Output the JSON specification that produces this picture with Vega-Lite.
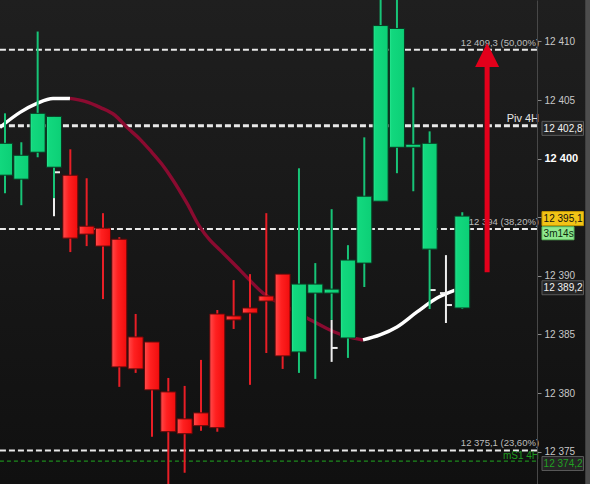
{
  "$schema": "https://vega.github.io/schema/vega-lite/v6.json",
  "width": 590,
  "height": 484,
  "autosize": {"type": "none"},
  "padding": 0,
  "background": "#161616",
  "config": {
    "view": {"stroke": null, "fill": {"gradient": "linear", "x1": 0, "y1": 0, "x2": 0, "y2": 1, "stops": [{"offset": 0, "color": "#1f1f1f"}, {"offset": 1, "color": "#101010"}]}},
    "scale": {"continuousPadding": 0},
    "font": "Liberation Sans"
  },
  "datasets": {
    "candles": [
      {"k": 0, "o": 12398.59, "c": 12401.31, "h": 12403.87, "l": 12397.05},
      {"k": 1, "o": 12398.25, "c": 12400.29, "h": 12401.40, "l": 12396.03},
      {"k": 2, "o": 12400.55, "c": 12403.87, "h": 12410.85, "l": 12400.12},
      {"k": 3, "o": 12399.27, "c": 12403.61, "h": 12403.61, "l": 12396.63},
      {"k": 4, "o": 12398.59, "c": 12393.22, "h": 12400.80, "l": 12392.03},
      {"k": 5, "o": 12394.24, "c": 12393.56, "h": 12398.33, "l": 12392.54},
      {"k": 6, "o": 12394.07, "c": 12392.54, "h": 12395.35, "l": 12388.02},
      {"k": 7, "o": 12393.13, "c": 12382.23, "h": 12393.30, "l": 12380.53},
      {"k": 8, "o": 12384.79, "c": 12382.06, "h": 12386.75, "l": 12381.72},
      {"k": 9, "o": 12384.36, "c": 12380.27, "h": 12384.36, "l": 12376.27},
      {"k": 10, "o": 12380.10, "c": 12376.70, "h": 12381.29, "l": 12372.00},
      {"k": 11, "o": 12377.80, "c": 12376.53, "h": 12380.61, "l": 12373.20},
      {"k": 12, "o": 12378.31, "c": 12377.21, "h": 12382.83, "l": 12376.78},
      {"k": 13, "o": 12386.75, "c": 12377.04, "h": 12387.09, "l": 12376.70},
      {"k": 14, "o": 12386.58, "c": 12386.24, "h": 12389.64, "l": 12385.47},
      {"k": 15, "o": 12387.26, "c": 12386.83, "h": 12390.15, "l": 12380.70},
      {"k": 16, "o": 12388.28, "c": 12387.85, "h": 12395.35, "l": 12383.42},
      {"k": 17, "o": 12390.15, "c": 12383.17, "h": 12390.15, "l": 12382.06},
      {"k": 18, "o": 12383.51, "c": 12389.30, "h": 12399.18, "l": 12381.72},
      {"k": 19, "o": 12388.53, "c": 12389.30, "h": 12391.09, "l": 12381.21},
      {"k": 20, "o": 12388.53, "c": 12388.87, "h": 12395.69, "l": 12386.24},
      {"k": 21, "o": 12384.70, "c": 12391.35, "h": 12392.62, "l": 12383.00},
      {"k": 22, "o": 12391.09, "c": 12396.80, "h": 12401.82, "l": 12389.05},
      {"k": 23, "o": 12396.37, "c": 12411.36, "h": 12414.00, "l": 12396.37},
      {"k": 24, "o": 12400.97, "c": 12411.11, "h": 12414.00, "l": 12398.76},
      {"k": 25, "o": 12400.97, "c": 12401.23, "h": 12406.08, "l": 12397.22},
      {"k": 26, "o": 12392.28, "c": 12401.31, "h": 12402.33, "l": 12387.17},
      {"k": 28, "o": 12387.26, "c": 12395.10, "h": 12395.43, "l": 12387.17}
    ],
    "whitebars": [
      {"k": 3, "h": 12398.84, "l": 12395.09, "o": null, "c": 12398.84},
      {"k": 20, "h": 12386.24, "l": 12382.66, "o": null, "c": 12383.85},
      {"k": 26, "h": null, "l": null, "o": null, "c": 12388.79},
      {"k": 27, "h": 12391.77, "l": 12385.98, "o": 12388.53, "c": 12387.51}
    ],
    "ma": [
      {"k": -0.31, "v": 12402.67, "seg": "a"},
      {"k": 0.92, "v": 12403.95, "seg": "a"},
      {"k": 1.96, "v": 12404.72, "seg": "a"},
      {"k": 2.94, "v": 12405.14, "seg": "a"},
      {"k": 3.98, "v": 12405.14, "seg": "a"},
      {"k": 3.98, "v": 12405.14, "seg": "b"},
      {"k": 4.90, "v": 12404.89, "seg": "b"},
      {"k": 5.82, "v": 12404.38, "seg": "b"},
      {"k": 6.74, "v": 12403.70, "seg": "b"},
      {"k": 7.47, "v": 12402.67, "seg": "b"},
      {"k": 8.27, "v": 12401.65, "seg": "b"},
      {"k": 8.88, "v": 12400.72, "seg": "b"},
      {"k": 9.61, "v": 12399.52, "seg": "b"},
      {"k": 10.29, "v": 12398.16, "seg": "b"},
      {"k": 11.14, "v": 12396.20, "seg": "b"},
      {"k": 11.94, "v": 12394.16, "seg": "b"},
      {"k": 12.55, "v": 12393.05, "seg": "b"},
      {"k": 13.17, "v": 12392.20, "seg": "b"},
      {"k": 14.39, "v": 12390.49, "seg": "b"},
      {"k": 15.80, "v": 12388.53, "seg": "b"},
      {"k": 17.27, "v": 12387.34, "seg": "b"},
      {"k": 18.49, "v": 12386.41, "seg": "b"},
      {"k": 19.90, "v": 12385.38, "seg": "b"},
      {"k": 20.82, "v": 12384.87, "seg": "b"},
      {"k": 21.92, "v": 12384.53, "seg": "b"},
      {"k": 21.92, "v": 12384.53, "seg": "c"},
      {"k": 22.96, "v": 12384.96, "seg": "c"},
      {"k": 24.00, "v": 12385.64, "seg": "c"},
      {"k": 25.23, "v": 12386.92, "seg": "c"},
      {"k": 26.45, "v": 12388.11, "seg": "c"},
      {"k": 27.56, "v": 12388.79, "seg": "c"}
    ],
    "levels": [
      {"v": 12409.3, "label": "12 409,3 (50,00%)", "t": "fib"},
      {"v": 12402.8, "label": "Piv 4H", "t": "piv"},
      {"v": 12394.0, "label": "12 394 (38,20%)", "t": "fib"},
      {"v": 12375.1, "label": "12 375,1 (23,60%)", "t": "fib"},
      {"v": 12374.2, "label": "mS1 4H", "t": "sup"}
    ],
    "boxes": [
      {"v": 12402.8, "label": "12 402,8", "t": "dark"},
      {"v": 12395.1, "label": "12 395,1", "t": "price"},
      {"v": 12393.85, "label": "3m14s", "t": "timer"},
      {"v": 12389.2, "label": "12 389,2", "t": "dark"},
      {"v": 12374.2, "label": "12 374,2", "t": "sup"}
    ]
  },
  "layer": [
    {
      "data": {"values": [{}]},
      "mark": {"type": "rect", "fill": "#4d4d4d"},
      "encoding": {
        "x": {"datum": 35.53, "type": "quantitative", "scale": {"type": "linear", "domain": [-0.306, 35.82], "nice": false, "zero": false, "padding": 0}, "axis": null},
        "x2": {"datum": 37.0},
        "y": {"datum": 12372.24, "type": "quantitative", "scale": {"type": "linear", "domain": [12372.24, 12413.54], "nice": false, "zero": false, "padding": 0},
          "axis": {"orient": "right", "offset": -53, "zindex": 1, "values": [12375, 12380, 12385, 12390, 12395, 12400, 12405, 12410],
            "labelExpr": "datum.value == 12395 ? '' : replace(format(datum.value, ','), ',', ' ')",
            "labelColor": {"condition": {"test": "datum.value == 12400", "value": "#ffffff"}, "value": "#c8c8c8"},
            "labelFontWeight": {"condition": {"test": "datum.value == 12400", "value": "bold"}, "value": "normal"},
            "labelFontSize": {"condition": {"test": "datum.value == 12400", "value": 11}, "value": 10},
            "labelFont": "Liberation Sans", "labelPadding": 3,
            "domainColor": "#484848", "domainWidth": 1, "tickColor": "#8a8a8a", "tickSize": 4,
            "title": null, "grid": false, "labelOverlap": false, "labelBound": false, "labelFlush": false}},
        "y2": {"datum": 12413.54}
      }
    },
    {
      "data": {"name": "levels"},
      "transform": [{"filter": "datum.t != 'sup'"}],
      "mark": {"type": "rule", "color": "#e8e8e8", "strokeDash": [6, 3]},
      "encoding": {
        "x": {"datum": -0.31, "type": "quantitative", "scale": {"type": "linear", "domain": [-0.306, 35.82], "nice": false, "zero": false, "padding": 0}, "axis": null},
        "x2": {"datum": 32.58},
        "y": {"field": "v", "type": "quantitative", "scale": {"type": "linear", "domain": [12372.24, 12413.54], "nice": false, "zero": false, "padding": 0}},
        "strokeWidth": {"condition": {"test": "datum.t == 'piv'", "value": 3}, "value": 2}
      }
    },
    {
      "data": {"name": "levels"},
      "transform": [{"filter": "datum.t == 'sup'"}],
      "mark": {"type": "rule", "color": "#1d8a1d", "strokeDash": [4, 3], "strokeWidth": 1.3},
      "encoding": {
        "x": {"datum": -0.31, "type": "quantitative", "scale": {"type": "linear", "domain": [-0.306, 35.82], "nice": false, "zero": false, "padding": 0}, "axis": null},
        "x2": {"datum": 32.58},
        "y": {"field": "v", "type": "quantitative", "scale": {"type": "linear", "domain": [12372.24, 12413.54], "nice": false, "zero": false, "padding": 0}}
      }
    },
    {
      "data": {"name": "ma"},
      "mark": {"type": "line", "strokeWidth": 3.4, "interpolate": "monotone", "strokeCap": "butt"},
      "encoding": {
        "x": {"field": "k", "type": "quantitative", "scale": {"type": "linear", "domain": [-0.306, 35.82], "nice": false, "zero": false, "padding": 0}, "axis": null},
        "y": {"field": "v", "type": "quantitative", "scale": {"type": "linear", "domain": [12372.24, 12413.54], "nice": false, "zero": false, "padding": 0}},
        "detail": {"field": "seg"},
        "color": {"field": "seg", "type": "nominal", "scale": {"domain": ["a", "b", "c"], "range": ["#ffffff", "#8a0b30", "#ffffff"]}, "legend": null}
      }
    },
    {
      "data": {"name": "whitebars"},
      "mark": {"type": "rule", "color": "#eeeeee", "strokeWidth": 2},
      "encoding": {
        "x": {"field": "k", "type": "quantitative", "scale": {"type": "linear", "domain": [-0.306, 35.82], "nice": false, "zero": false, "padding": 0}, "axis": null},
        "y": {"field": "l", "type": "quantitative", "scale": {"type": "linear", "domain": [12372.24, 12413.54], "nice": false, "zero": false, "padding": 0}},
        "y2": {"field": "h"}
      }
    },
    {
      "data": {"name": "whitebars"},
      "transform": [{"filter": "isValid(datum.c)"}],
      "mark": {"type": "rule", "color": "#eeeeee", "strokeWidth": 2, "x2Offset": 6},
      "encoding": {
        "x": {"field": "k", "type": "quantitative", "scale": {"type": "linear", "domain": [-0.306, 35.82], "nice": false, "zero": false, "padding": 0}, "axis": null},
        "x2": {"field": "k"},
        "y": {"field": "c", "type": "quantitative", "scale": {"type": "linear", "domain": [12372.24, 12413.54], "nice": false, "zero": false, "padding": 0}}
      }
    },
    {
      "data": {"name": "whitebars"},
      "transform": [{"filter": "isValid(datum.o)"}],
      "mark": {"type": "rule", "color": "#eeeeee", "strokeWidth": 2, "x2Offset": -6},
      "encoding": {
        "x": {"field": "k", "type": "quantitative", "scale": {"type": "linear", "domain": [-0.306, 35.82], "nice": false, "zero": false, "padding": 0}, "axis": null},
        "x2": {"field": "k"},
        "y": {"field": "o", "type": "quantitative", "scale": {"type": "linear", "domain": [12372.24, 12413.54], "nice": false, "zero": false, "padding": 0}}
      }
    },
    {
      "data": {"name": "candles"},
      "transform": [{"filter": "datum.c >= datum.o"}],
      "mark": {"type": "rule", "color": "#17c477", "strokeWidth": 2},
      "encoding": {
        "x": {"field": "k", "type": "quantitative", "scale": {"type": "linear", "domain": [-0.306, 35.82], "nice": false, "zero": false, "padding": 0}, "axis": null},
        "y": {"field": "l", "type": "quantitative", "scale": {"type": "linear", "domain": [12372.24, 12413.54], "nice": false, "zero": false, "padding": 0}},
        "y2": {"field": "h"}
      }
    },
    {
      "data": {"name": "candles"},
      "transform": [{"filter": "datum.c < datum.o"}],
      "mark": {"type": "rule", "color": "#e81e26", "strokeWidth": 2},
      "encoding": {
        "x": {"field": "k", "type": "quantitative", "scale": {"type": "linear", "domain": [-0.306, 35.82], "nice": false, "zero": false, "padding": 0}, "axis": null},
        "y": {"field": "l", "type": "quantitative", "scale": {"type": "linear", "domain": [12372.24, 12413.54], "nice": false, "zero": false, "padding": 0}},
        "y2": {"field": "h"}
      }
    },
    {
      "data": {"name": "candles"},
      "transform": [{"filter": "datum.c >= datum.o"}],
      "mark": {"type": "bar", "size": 15, "stroke": "#0a3a22", "strokeWidth": 1,
        "color": {"gradient": "linear", "x1": 0, "y1": 0, "x2": 1, "y2": 0, "stops": [{"offset": 0, "color": "#2ee894"}, {"offset": 0.15, "color": "#12d87e"}, {"offset": 1, "color": "#0ccf76"}]}},
      "encoding": {
        "x": {"field": "k", "type": "quantitative", "scale": {"type": "linear", "domain": [-0.306, 35.82], "nice": false, "zero": false, "padding": 0}, "axis": null},
        "y": {"field": "o", "type": "quantitative", "scale": {"type": "linear", "domain": [12372.24, 12413.54], "nice": false, "zero": false, "padding": 0}},
        "y2": {"field": "c"}
      }
    },
    {
      "data": {"name": "candles"},
      "transform": [{"filter": "datum.c < datum.o"}],
      "mark": {"type": "bar", "size": 15, "stroke": "#5a0a0a", "strokeWidth": 1,
        "color": {"gradient": "linear", "x1": 0, "y1": 0, "x2": 1, "y2": 0, "stops": [{"offset": 0, "color": "#ff4a4a"}, {"offset": 0.4, "color": "#ff2020"}, {"offset": 1, "color": "#f00d0d"}]}},
      "encoding": {
        "x": {"field": "k", "type": "quantitative", "scale": {"type": "linear", "domain": [-0.306, 35.82], "nice": false, "zero": false, "padding": 0}, "axis": null},
        "y": {"field": "o", "type": "quantitative", "scale": {"type": "linear", "domain": [12372.24, 12413.54], "nice": false, "zero": false, "padding": 0}},
        "y2": {"field": "c"}
      }
    },
    {
      "data": {"name": "levels"},
      "transform": [{"filter": "datum.t != 'sup'"}],
      "mark": {"type": "text", "align": "right", "baseline": "bottom", "dy": -2, "fontSize": 9.5, "font": "Liberation Sans"},
      "encoding": {
        "x": {"datum": 32.7, "type": "quantitative", "scale": {"type": "linear", "domain": [-0.306, 35.82], "nice": false, "zero": false, "padding": 0}, "axis": null},
        "y": {"field": "v", "type": "quantitative", "scale": {"type": "linear", "domain": [12372.24, 12413.54], "nice": false, "zero": false, "padding": 0}},
        "text": {"field": "label"},
        "size": {"condition": {"test": "datum.t == 'piv'", "value": 11}, "value": 9.5},
        "color": {"condition": {"test": "datum.t == 'piv'", "value": "#e6e6e6"}, "value": "#bdbdbd"}
      }
    },
    {
      "data": {"name": "levels"},
      "transform": [{"filter": "datum.t == 'sup'"}],
      "mark": {"type": "text", "align": "right", "baseline": "alphabetic", "dy": -2, "fontSize": 10, "font": "Liberation Sans", "color": "#1e9a1e"},
      "encoding": {
        "x": {"datum": 32.7, "type": "quantitative", "scale": {"type": "linear", "domain": [-0.306, 35.82], "nice": false, "zero": false, "padding": 0}, "axis": null},
        "y": {"field": "v", "type": "quantitative", "scale": {"type": "linear", "domain": [12372.24, 12413.54], "nice": false, "zero": false, "padding": 0}},
        "text": {"field": "label"}
      }
    },
    {
      "data": {"values": [{}]},
      "mark": {"type": "rule", "color": "#e3001b", "strokeWidth": 5},
      "encoding": {
        "x": {"datum": 29.52, "type": "quantitative", "scale": {"type": "linear", "domain": [-0.306, 35.82], "nice": false, "zero": false, "padding": 0}, "axis": null},
        "y": {"datum": 12390.3, "type": "quantitative", "scale": {"type": "linear", "domain": [12372.24, 12413.54], "nice": false, "zero": false, "padding": 0}},
        "y2": {"datum": 12408.3}
      }
    },
    {
      "data": {"values": [{}]},
      "mark": {"type": "point", "shape": "M0,-1L1,1L-1,1Z", "size": 576, "filled": true, "color": "#e3001b", "opacity": 1, "strokeWidth": 0},
      "encoding": {
        "x": {"datum": 29.52, "type": "quantitative", "scale": {"type": "linear", "domain": [-0.306, 35.82], "nice": false, "zero": false, "padding": 0}, "axis": null},
        "y": {"datum": 12408.85, "type": "quantitative", "scale": {"type": "linear", "domain": [12372.24, 12413.54], "nice": false, "zero": false, "padding": 0}}
      }
    },
    {
      "data": {"name": "boxes"},
      "transform": [{"filter": "datum.t != 'timer'"}],
      "mark": {"type": "rect", "height": 14, "strokeWidth": 1, "yOffset": 2.5},
      "encoding": {
        "x": {"datum": 32.88, "type": "quantitative", "scale": {"type": "linear", "domain": [-0.306, 35.82], "nice": false, "zero": false, "padding": 0}, "axis": null},
        "x2": {"datum": 35.42},
        "y": {"field": "v", "type": "quantitative", "scale": {"type": "linear", "domain": [12372.24, 12413.54], "nice": false, "zero": false, "padding": 0}},
        "fill": {"condition": {"test": "datum.t == 'price'", "value": "#f2c417"}, "value": "#252525"},
        "stroke": {"condition": {"test": "datum.t == 'price'", "value": "#c89a00"}, "value": "#5a5a5a"}
      }
    },
    {
      "data": {"name": "boxes"},
      "transform": [{"filter": "datum.t == 'timer'"}],
      "mark": {"type": "rect", "height": 13, "fill": "#8fe88f", "stroke": "#5fbf5f", "strokeWidth": 1, "yOffset": 2.5},
      "encoding": {
        "x": {"datum": 32.88, "type": "quantitative", "scale": {"type": "linear", "domain": [-0.306, 35.82], "nice": false, "zero": false, "padding": 0}, "axis": null},
        "x2": {"datum": 34.84},
        "y": {"field": "v", "type": "quantitative", "scale": {"type": "linear", "domain": [12372.24, 12413.54], "nice": false, "zero": false, "padding": 0}}
      }
    },
    {
      "data": {"name": "boxes"},
      "mark": {"type": "text", "align": "left", "baseline": "middle", "fontSize": 10, "font": "Liberation Sans", "dy": 3},
      "encoding": {
        "x": {"datum": 32.98, "type": "quantitative", "scale": {"type": "linear", "domain": [-0.306, 35.82], "nice": false, "zero": false, "padding": 0}, "axis": null},
        "y": {"field": "v", "type": "quantitative", "scale": {"type": "linear", "domain": [12372.24, 12413.54], "nice": false, "zero": false, "padding": 0}},
        "text": {"field": "label"},
        "color": {"condition": [
          {"test": "datum.t == 'price'", "value": "#111111"},
          {"test": "datum.t == 'timer'", "value": "#0d2a0d"},
          {"test": "datum.t == 'sup'", "value": "#22a022"}
        ], "value": "#f2f2f2"}
      }
    }
  ]
}
